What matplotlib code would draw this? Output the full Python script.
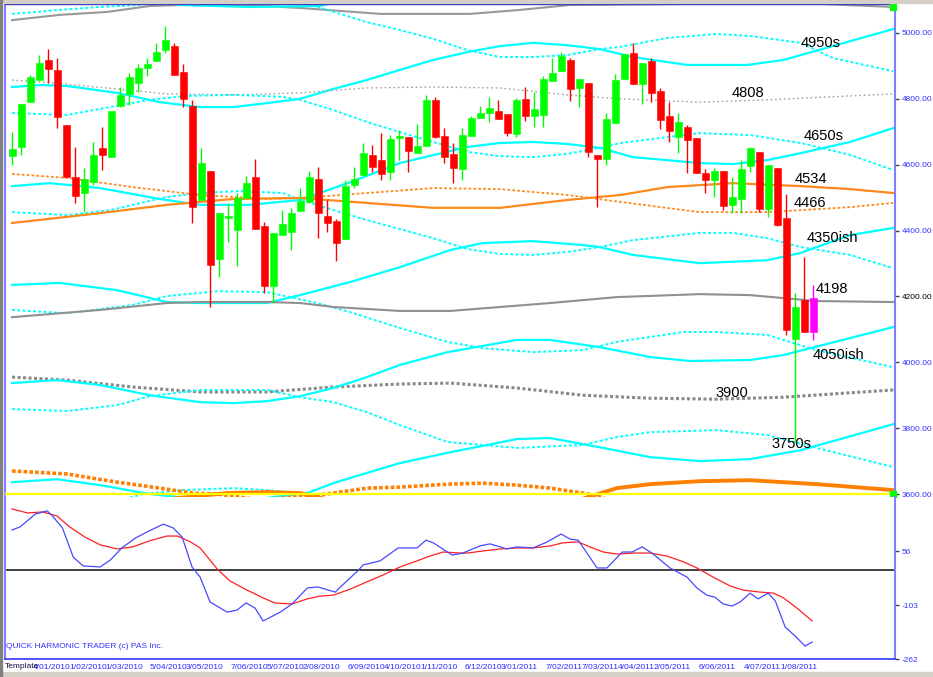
import matplotlib
matplotlib.use('Agg')
import matplotlib.pyplot as plt
import matplotlib.transforms as mtransforms
from matplotlib.patches import Rectangle

plt.rcParams['font.family'] = ['Liberation Sans', 'DejaVu Sans']

# weekly candles (bar 0 = week of 21/12/2009)
opens = [4626, 4654, 4790, 4857, 4918, 4888, 4721, 4563, 4514, 4548,
         4651, 4623, 4778, 4815, 4848, 4894, 4915, 4948, 4961, 4882,
         4778, 4493, 4581, 4314, 4438, 4402, 4499, 4563, 4414, 4232,
         4387, 4396, 4459, 4487, 4557, 4444, 4429, 4374, 4538, 4569,
         4630, 4614, 4578, 4681, 4684, 4636, 4657, 4797, 4687, 4633,
         4587, 4687, 4742, 4757, 4763, 4754, 4693, 4800, 4748, 4751,
         4854, 4885, 4918, 4833, 4848, 4630, 4617, 4727, 4860, 4939,
         4845, 4915, 4824, 4748, 4684, 4715, 4681, 4575, 4554, 4581,
         4478, 4496, 4596, 4639, 4466, 4590, 4438, 4071, 4189, 4092]
highs = [4699, 4784, 4872, 4933, 4951, 4924, 4721, 4654, 4590, 4669,
         4715, 4763, 4836, 4879, 4906, 4924, 4970, 5021, 4970, 4906,
         4797, 4651, 4581, 4453, 4484, 4514, 4566, 4617, 4426, 4393,
         4462, 4469, 4529, 4581, 4593, 4493, 4435, 4554, 4593, 4666,
         4660, 4696, 4690, 4705, 4684, 4724, 4812, 4806, 4712, 4666,
         4712, 4748, 4778, 4806, 4797, 4754, 4803, 4836, 4821, 4869,
         4924, 4942, 4924, 4860, 4848, 4630, 4757, 4876, 4936, 4970,
         4909, 4924, 4833, 4790, 4757, 4721, 4681, 4587, 4590, 4581,
         4563, 4614, 4654, 4639, 4599, 4590, 4511, 4210, 4320, 4235]
lows = [4599, 4630, 4790, 4857, 4848, 4712, 4563, 4484, 4456, 4538,
        4584, 4623, 4775, 4781, 4821, 4869, 4915, 4939, 4872, 4775,
        4423, 4493, 4168, 4259, 4365, 4292, 4499, 4405, 4210, 4180,
        4387, 4341, 4459, 4487, 4377, 4396, 4308, 4374, 4529, 4569,
        4578, 4554, 4554, 4614, 4578, 4636, 4657, 4681, 4605, 4544,
        4554, 4687, 4742, 4730, 4739, 4687, 4684, 4733, 4715, 4715,
        4854, 4885, 4793, 4775, 4623, 4472, 4599, 4727, 4860, 4845,
        4784, 4790, 4709, 4669, 4636, 4575, 4575, 4514, 4502, 4462,
        4453, 4453, 4578, 4456, 4441, 4414, 4083, 3758, 4092, 4068]
closes = [4648, 4784, 4866, 4909, 4891, 4745, 4563, 4505, 4557, 4630,
          4630, 4763, 4812, 4866, 4894, 4906, 4942, 4979, 4872, 4800,
          4472, 4605, 4296, 4453, 4444, 4499, 4544, 4405, 4232, 4393,
          4420, 4453, 4490, 4563, 4453, 4423, 4362, 4535, 4557, 4636,
          4593, 4572, 4678, 4687, 4642, 4657, 4797, 4684, 4623, 4590,
          4690, 4742, 4757, 4772, 4739, 4696, 4797, 4748, 4769, 4860,
          4879, 4930, 4830, 4860, 4639, 4617, 4739, 4857, 4936, 4845,
          4909, 4818, 4736, 4702, 4730, 4675, 4575, 4554, 4581, 4475,
          4502, 4587, 4651, 4466, 4599, 4417, 4098, 4168, 4092, 4195]

month_labels = ['4/01/2010', '1/02/2010', '1/03/2010', '5/04/2010', '3/05/2010',
                '7/06/2010', '5/07/2010', '2/08/2010', '6/09/2010', '4/10/2010',
                '1/11/2010', '6/12/2010', '3/01/2011', '7/02/2011', '7/03/2011',
                '4/04/2011', '2/05/2011', '6/06/2011', '4/07/2011', '1/08/2011']
month_bar = [2, 6, 10, 15, 19, 24, 28, 32, 37, 41, 45, 50, 54, 59, 63, 67, 71, 76, 81, 85]

# harmonic band curves (bar index, price)
grey_top_w = [0, 5.3, 10.6, 15.3, 18.7, 25.7, 32, 40.9, 50.9, 56.4, 62, 75, 90, 97.9]
grey_top_p = [5039, 5055, 5064, 5082, 5085, 5085, 5076, 5058, 5058, 5070, 5085, 5088, 5088, 5079]
cyan_top_dot_w = [0, 5.3, 9.8, 14, 23.7, 33.3, 39.4, 43.1, 46.8, 50.6, 54.2, 57.9, 61.7, 65.3,
                  67.6, 72.8, 78.3, 82, 87.6, 91.2, 97.9]
cyan_top_dot_p = [5058, 5070, 5079, 5085, 5137, 5085, 5033, 5009, 4982, 4948, 4927, 4927, 4933, 4951,
                  4958, 4985, 4997, 4991, 4970, 4924, 4884]
cyan_top_sol_w = [14.2, 18.7, 26.4, 34.2, 38.7]
cyan_top_sol_p = [5115, 5085, 5079, 5082, 5115]
band_c_w = [0, 3.4, 6.1, 11.7, 16.4, 20.9, 24.6, 28.3, 32, 35.7, 39.4, 43.1, 46.8, 50.6, 54.2,
            57.9, 61.7, 65.3, 69, 75, 81.7, 85.7, 90.9, 97.9]
band_c_p = [4836, 4842, 4839, 4818, 4790, 4775, 4775, 4787, 4800, 4830, 4857, 4888, 4918, 4942, 4960,
            4970, 4963, 4951, 4927, 4903, 4903, 4918, 4958, 5012]
grey_dot_w = [0, 4.6, 11.7, 17.2, 24.6, 32, 39.4, 46.8, 54.2, 61.7, 67.6, 76.4, 83.9, 97.9]
grey_dot_p = [4857, 4848, 4830, 4815, 4812, 4818, 4833, 4836, 4833, 4812, 4800, 4790, 4797, 4815]
band_e_w = [0, 6.1, 10.9, 15.3, 19.4, 24.6, 30.1, 32, 35.7, 39.4, 43.1, 46.8, 50.6, 54.2, 57.9,
            61.7, 65.3, 67.6, 76.4, 82, 87.6, 93.1, 97.9]
band_e_p = [4757, 4751, 4775, 4797, 4809, 4812, 4806, 4797, 4766, 4730, 4699, 4669, 4639, 4626, 4623,
            4633, 4651, 4666, 4696, 4690, 4666, 4630, 4584]
band_f_w = [0, 4.2, 9.8, 16.4, 20.9, 26.4, 32, 37.6, 43.1, 50.6, 54.2, 57.9, 61.7, 65.3, 69,
            76.4, 80.1, 83.9, 87.6, 93.1, 97.9]
band_f_p = [4535, 4544, 4529, 4496, 4478, 4478, 4493, 4547, 4605, 4654, 4666, 4669, 4663, 4651, 4623,
            4605, 4602, 4614, 4635, 4669, 4711]
band_k_w = [0, 6.1, 10.9, 17.2, 20.9, 25.3, 30.1, 32, 39.4, 46.8, 50.6, 54.2, 57.9, 61.7, 65.3,
            69, 76.4, 80.1, 83.9, 87.6, 93.1, 97.9]
band_k_p = [4456, 4447, 4462, 4502, 4514, 4520, 4514, 4493, 4432, 4377, 4344, 4329, 4326, 4335, 4350,
            4371, 4393, 4393, 4377, 4350, 4326, 4286]
orange_sol_w = [0, 9.8, 17.2, 24.6, 32, 39.4, 46.8, 54.2, 61.7, 67.6, 72.8, 80.1, 87.6, 93.1, 97.9]
orange_sol_p = [4423, 4453, 4478, 4496, 4499, 4484, 4469, 4469, 4493, 4508, 4532, 4544, 4535, 4526, 4514]
orange_dot_w = [0, 6.1, 13.4, 20.9, 28.3, 32, 39.4, 46.8, 54.2, 61.7, 67.6, 76.4, 83.9, 93.1, 97.9]
orange_dot_p = [4572, 4560, 4532, 4508, 4496, 4499, 4514, 4529, 4526, 4508, 4487, 4456, 4456, 4471, 4484]
band_i_w = [0, 5.3, 11.7, 17.2, 20.9, 28.3, 32, 37.6, 43.1, 48.7, 52.3, 57.9, 63.4, 65.3, 69,
            76.4, 83.9, 87.6, 93.1, 97.9]
band_i_p = [4235, 4241, 4219, 4183, 4180, 4180, 4204, 4244, 4289, 4341, 4362, 4368, 4356, 4350, 4326,
            4301, 4310, 4332, 4386, 4408]
band_l_w = [0, 6.1, 13.4, 17.2, 22.8, 28.3, 33.9, 37.6, 43.1, 48.4, 52.3, 57.9, 63.4, 67.2, 74.6,
            78.3, 83.9, 89.4, 97.9]
band_l_p = [4159, 4149, 4174, 4201, 4216, 4213, 4180, 4152, 4104, 4062, 4043, 4031, 4037, 4062, 4092,
            4092, 4083, 4037, 3985]
grey_mid_w = [0, 9.8, 17.2, 20.9, 28.3, 32, 35.7, 43.1, 48.7, 59.8, 67.2, 76.4, 82, 85.7, 89.4, 97.9]
grey_mid_p = [4137, 4159, 4180, 4183, 4183, 4180, 4168, 4156, 4156, 4180, 4198, 4207, 4204, 4195, 4186, 4183]
grey_low_dot_w = [0, 6.1, 13.4, 20.9, 28.3, 35.7, 43.1, 48.7, 56.1, 63.4, 70.9, 78.3, 82, 85.7, 97.9]
grey_low_dot_p = [3955, 3946, 3925, 3910, 3910, 3925, 3934, 3937, 3922, 3900, 3891, 3888, 3891, 3894, 3916]
band_m_w = [0, 5, 9.8, 15.3, 20.9, 24.6, 28.3, 32, 35.7, 39.4, 43.1, 48.4, 56.1, 59.8, 65.3,
            70.9, 75.3, 82, 85.7, 97.9]
band_m_p = [3937, 3946, 3931, 3900, 3879, 3876, 3882, 3897, 3922, 3955, 3992, 4031, 4068, 4068, 4046,
            4016, 4004, 4007, 4022, 4107]
band_o_w = [0, 6.1, 11.7, 15.3, 20.9, 28.3, 32, 35.7, 39.4, 43.1, 48.4, 56.1, 63.4, 67.2, 70.9,
            78.3, 83.9, 89.4, 97.9]
band_o_p = [3858, 3852, 3870, 3897, 3916, 3916, 3894, 3879, 3849, 3809, 3758, 3740, 3749, 3773, 3788,
            3794, 3779, 3740, 3682]
band_p_w = [0, 5, 9.8, 15.3, 24.2, 32.8, 35.7, 39.4, 43.1, 48.7, 56.1, 59.8, 65.3, 70.9, 76.4,
            82, 87.6, 97.9]
band_p_p = [3636, 3645, 3627, 3600, 3575, 3603, 3633, 3664, 3694, 3727, 3767, 3770, 3742, 3712, 3700,
            3706, 3733, 3812]
band_q_w = [12, 14.6, 19, 24.6, 28.3, 32, 35.3]
band_q_p = [3582, 3600, 3612, 3618, 3612, 3603, 3582]
orange_low_dot_w = [0, 6.1, 11.7, 16.4, 20.1, 22.8, 27.6, 35, 39.4, 43.1, 48.4, 52.3, 56.1, 59.8,
                    63.4, 64.6, 66.4]
orange_low_dot_p = [3670, 3661, 3636, 3618, 3603, 3600, 3582, 3600, 3618, 3621, 3630, 3633, 3627, 3618,
                    3603, 3597, 3582]
orange_low_sol_w = [16.4, 23.9, 28.3, 32, 35.3, 48.7, 63, 67.2, 70.9, 76.4, 82, 85.7, 89.4, 97.9]
orange_low_sol_p = [3582, 3603, 3606, 3603, 3582, 3551, 3582, 3618, 3630, 3639, 3642, 3636, 3630, 3612]
end_marker_p = [5079, 3600]

level_labels = ['4950s', '4808', '4650s', '4534', '4466', '4350ish', '4198', '4050ish', '3900', '3750s']
level_w = [87.6, 79.9, 87.9, 86.9, 86.8, 88.3, 89.3, 89.0, 78.1, 84.4]
level_p = [4970, 4818, 4687, 4557, 4484, 4377, 4223, 4022, 3907, 3752]

# oscillator
blue_w = [0, 0.9, 2.6, 3.9, 4.4, 5.6, 6.8, 7.9, 9.8, 10.9, 12.2, 13.7, 15, 16.8, 17.9, 18.9, 20,
          20.9, 22, 23.9, 25, 26, 27, 27.9, 29.8, 31.1, 32.8, 34, 35.9, 37.2, 38.4, 39, 40.9,
          42.9, 45, 46, 46.8, 48.9, 50.1, 52, 53.1, 55, 56.1, 57.9, 59.4, 61, 62, 62.9, 65,
          66.1, 67.8, 68.9, 70, 71.1, 73.1, 75, 76.1, 77.2, 78.1, 79, 80, 80.9, 82, 82.9, 84,
          84.8, 85.9, 87, 88.1, 88.9]
blue_v = [118, 127, 165, 174, 162, 124, 38, 12, 9, 29, 65, 94, 112, 135, 124, 97, 9, -21, -94,
          -124, -118, -97, -112, -150, -124, -100, -53, -50, -65, -32, -3, 15, 27, 65, 65, 88,
          80, 44, 50, 71, 77, 62, 68, 65, 82, 106, 91, 88, 6, 6, 53, 53, 68, 50, 6, -21, -53,
          -74, -80, -100, -106, -94, -68, -85, -68, -91, -168, -194, -224, -212]
red_w = [0, 1.7, 3.4, 5, 6.4, 8.1, 9.8, 11.7, 13.4, 15.3, 17.2, 18.4, 19.8, 20.9, 22.8, 24.2,
         26.1, 27.9, 29.2, 31.1, 32.8, 34.2, 35.7, 37.6, 39.4, 41.2, 43.1, 45, 46.4, 47.9, 49.8,
         50.6, 52.3, 54.2, 56.1, 57.9, 59.8, 61.2, 62.9, 64.2, 65.7, 67.2, 69, 70.9, 72.8, 74.6,
         76.1, 77.9, 79.8, 81.2, 83.1, 84.6, 85.7, 87.2, 88.9]
red_v = [180, 168, 171, 159, 127, 97, 74, 62, 68, 86, 100, 100, 83, 65, 3, -32, -59, -82, -97,
         -100, -85, -77, -74, -56, -35, -15, 9, 27, 41, 53, 50, 50, 56, 62, 65, 65, 71, 80, 83,
         68, 53, 47, 50, 50, 41, 24, 6, -21, -47, -59, -65, -68, -82, -112, -150]
osc_ticks = [56, -103, -262]

W, H = 933, 677
fig = plt.figure(figsize=(W / 100, H / 100), dpi=100)


def box(l, t, r, b):
    return [l / W, 1 - b / H, (r - l) / W, (b - t) / H]


ax = fig.add_axes(box(5, 4, 895, 497))
osc = fig.add_axes(box(5, 497, 895, 659))
xlim = (-0.78, 98.1)

# bands
CYAN = '#00ffff'
DOT = (0, (1.5, 1.2))
bands = [
    (grey_top_w, grey_top_p, '#999999', '-', 1.5),
    (cyan_top_dot_w, cyan_top_dot_p, CYAN, DOT, 1.4),
    (cyan_top_sol_w, cyan_top_sol_p, CYAN, '-', 1.6),
    (band_c_w, band_c_p, CYAN, '-', 1.6),
    (grey_dot_w, grey_dot_p, '#a0a0a0', (0, (1.2, 2.0)), 1.0),
    (band_e_w, band_e_p, CYAN, DOT, 1.4),
    (band_f_w, band_f_p, CYAN, '-', 1.6),
    (band_k_w, band_k_p, CYAN, DOT, 1.4),
    (orange_sol_w, orange_sol_p, '#ff8a1c', '-', 1.6),
    (orange_dot_w, orange_dot_p, '#ff8a1c', DOT, 1.3),
    (band_i_w, band_i_p, CYAN, '-', 1.6),
    (band_l_w, band_l_p, CYAN, DOT, 1.4),
    (grey_mid_w, grey_mid_p, '#909090', '-', 1.5),
    (grey_low_dot_w, grey_low_dot_p, '#8a8a8a', (0, (1.0, 0.8)), 2.2),
    (band_m_w, band_m_p, CYAN, '-', 1.6),
    (band_o_w, band_o_p, CYAN, DOT, 1.4),
    (band_p_w, band_p_p, CYAN, '-', 1.6),
    (band_q_w, band_q_p, CYAN, DOT, 1.4),
    (orange_low_dot_w, orange_low_dot_p, '#ff8000', (0, (1.0, 0.6)), 2.6),
    (orange_low_sol_w, orange_low_sol_p, '#ff8000', '-', 2.8),
]
for bw, bp, col, ls, lw in bands:
    ax.plot(bw, bp, color=col, linestyle=ls, linewidth=lw, zorder=2)

ax.axhline(3600, color='#ffff00', linewidth=1.6, zorder=3)
ax.plot([97.9] * len(end_marker_p), end_marker_p, linestyle='none', marker='s',
        markersize=4, color='#00ff00', clip_on=False, zorder=6)

# candles
for i in range(len(opens)):
    if i == len(opens) - 1:
        col = '#ff00ff'
    elif closes[i] >= opens[i]:
        col = '#00ff00'
    else:
        col = '#ff0000'
    ax.vlines(i, lows[i], highs[i], color=col, linewidth=1.0, zorder=4)
    lo = min(opens[i], closes[i])
    hgt = max(abs(closes[i] - opens[i]), 3)
    ax.bar(i, hgt, bottom=lo, width=0.78, color=col, edgecolor=col, linewidth=0.4, zorder=5)

for txt, lw_, lp in zip(level_labels, level_w, level_p):
    ax.text(lw_, lp, txt, fontsize=10.5, color='black', ha='left', va='center', zorder=7)

ax.set_xlim(*xlim)
ax.set_ylim(3591, 5088)
ax.yaxis.tick_right()
yt = list(range(3600, 5001, 200))
ax.set_yticks(yt)
ax.set_yticklabels([f'{v:.2f}' for v in yt])
ax.tick_params(axis='y', direction='out', length=3, width=1, color='#404040',
               labelsize=6, pad=2, labelcolor='#3333ff')
for lab, v in zip(ax.get_yticklabels(), yt):
    if v == 4200:
        lab.set_color('black')
ax.tick_params(axis='x', bottom=False, labelbottom=False)
ax.spines['bottom'].set_visible(False)
ax.spines['left'].set_color('#8080ff')
ax.spines['left'].set_linewidth(1.5)
ax.spines['right'].set_color('#8080ff')
ax.spines['right'].set_linewidth(1.5)
ax.spines['top'].set_color('#2020c0')
ax.spines['top'].set_linewidth(1.0)

# oscillator panel
osc.axhline(0, color='#404040', linewidth=1.4, zorder=1)
osc.plot(blue_w, blue_v, color='#4848ff', linewidth=0.9, zorder=3)
osc.plot(red_w, red_v, color='#ff2020', linewidth=0.9, zorder=2)
osc.set_xlim(*xlim)
osc.set_ylim(-262, 215)
osc.yaxis.tick_right()
osc.set_yticks(osc_ticks)
osc.set_yticklabels([str(v) for v in osc_ticks])
osc.tick_params(axis='y', direction='out', length=3, width=1, color='#404040',
                labelsize=6, pad=2, labelcolor='#3333ff')
osc.tick_params(axis='x', bottom=False, labelbottom=False)
osc.spines['top'].set_visible(False)
osc.spines['left'].set_color('#8080ff')
osc.spines['left'].set_linewidth(1.5)
osc.spines['right'].set_color('#8080ff')
osc.spines['right'].set_linewidth(1.5)
osc.spines['bottom'].set_color('#3333ff')
osc.spines['bottom'].set_linewidth(1.2)

trans = mtransforms.blended_transform_factory(osc.transData, osc.transAxes)
for lab, b in zip(month_labels, month_bar):
    osc.text(b + 0.33, -0.05, lab, transform=trans, fontsize=6, color='#2a2aff',
             ha='left', va='center', clip_on=False)

fig.text(6 / W, 1 - 646 / H, 'QUICK HARMONIC TRADER (c) PAS Inc.', fontsize=6,
         color='#3333ff', va='center', ha='left')
fig.text(5 / W, 1 - 667 / H, 'Template', fontsize=6, color='#101040', va='center', ha='left')

# window chrome
fig.patches.append(Rectangle((0, 1 - 3 / H), 1, 3 / H, transform=fig.transFigure,
                             color='#d4d0c8', zorder=0))
fig.patches.append(Rectangle((0, 0), 1, 5 / H, transform=fig.transFigure,
                             color='#d4d0c8', zorder=0))
fig.patches.append(Rectangle((0, 0), 1.5 / W, 1, transform=fig.transFigure,
                             color='#808080', zorder=0))

fig.savefig('out.png', dpi=100)
